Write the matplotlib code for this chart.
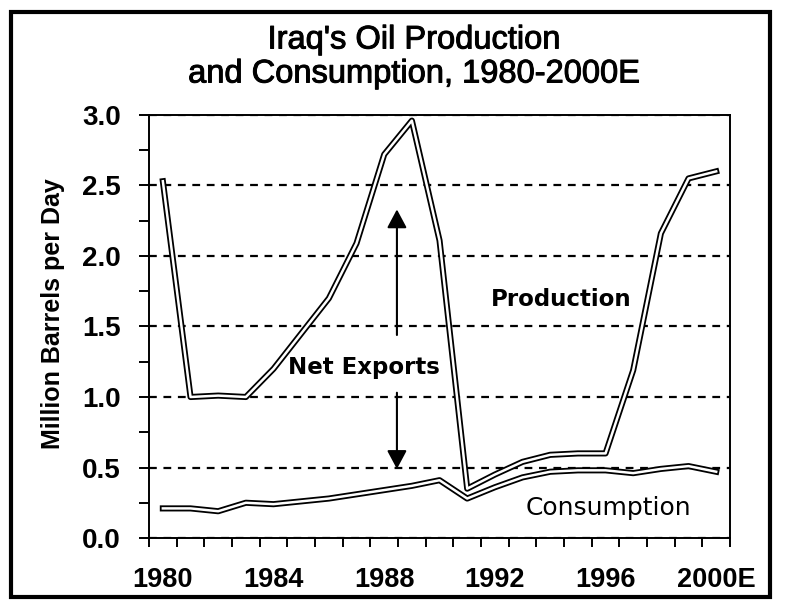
import numpy as np
import matplotlib
matplotlib.use('Agg')
from matplotlib import pyplot as plt
from matplotlib.patches import Rectangle, FancyArrowPatch
import matplotlib.patheffects as pe

years = list(range(1980, 2001))
production = [2.53, 1.00, 1.01, 1.00, 1.20, 1.45, 1.70, 2.09, 2.72, 2.96, 2.11,
              0.35, 0.45, 0.54, 0.59, 0.60, 0.60, 1.19, 2.16, 2.55, 2.60]
consumption = [0.21, 0.21, 0.19, 0.25, 0.24, 0.26, 0.28, 0.31, 0.34, 0.37, 0.41,
               0.28, 0.36, 0.43, 0.47, 0.48, 0.48, 0.46, 0.49, 0.51, 0.47]
label_years = [1980, 1984, 1988, 1992, 1996, 2000]
label_text = ['1980', '1984', '1988', '1992', '1996', '2000E']

plt.rcParams['font.family'] = ['Liberation Sans', 'DejaVu Sans']

fig = plt.figure(figsize=(7.86, 6.01), dpi=100)
ax = fig.add_axes([0.1896, 0.1048, 0.7392, 0.7039])

# double-line look: thick black under thin white
for series in (production, consumption):
    ax.plot(years, series, color='black', lw=4.4, solid_joinstyle='round', zorder=3)
    ax.plot(years, series, color='white', lw=1.8, solid_joinstyle='round', zorder=4)

ax.set_xlim(1979.5, 2000.5)
ax.set_ylim(0, 3.0)

# year boundaries get the tick marks, labels sit in the middle of the category
ax.set_xticks(np.arange(1979.5, 2001, 1))
ax.set_xticklabels([])
ax.set_xticks(label_years, minor=True)
ax.set_xticklabels(label_text, minor=True, fontsize=19.5, fontweight='bold')
ax.tick_params(axis='x', which='major', direction='out', length=6.5, width=1.4)
ax.tick_params(axis='x', which='minor', length=0, pad=21)

ax.set_yticks(np.arange(0, 3.01, 0.5))
ax.set_yticklabels(['%.1f' % v for v in np.arange(0, 3.01, 0.5)],
                   fontsize=20, fontweight='bold')
ax.set_yticks(np.arange(0.25, 3.0, 0.5), minor=True)
ax.tick_params(axis='y', which='both', direction='out', length=7.2, width=1.4)
ax.tick_params(axis='y', which='major', pad=13)

ax.grid(axis='y', which='major', color='black', lw=1.6, linestyle=(0, (3.5, 3)))
ax.set_axisbelow(True)
for s in ax.spines.values():
    s.set_linewidth(1.4)
    s.set_zorder(5)

ax.set_ylabel('Million Barrels per Day', fontsize=18, fontweight='bold')
ax.yaxis.set_label_coords(-0.145, 0.53)

# annotations
arrow_x = 1988.46
for y0, y1 in [(1.42, 2.35), (1.05, 0.47)]:
    ax.add_patch(FancyArrowPatch((arrow_x, y0), (arrow_x, y1),
                                 arrowstyle='-|>,head_length=0.75,head_width=0.4',
                                 mutation_scale=15, color='black', lw=1.5, zorder=6))
ax.text(1987.27, 1.21, 'Net Exports', fontsize=16.5, fontweight='bold',
        family='DejaVu Sans', ha='center', va='center', zorder=6)
ax.text(1994.39, 1.69, 'Production', fontsize=16.5, fontweight='bold',
        family='DejaVu Sans', ha='center', va='center', zorder=6)
ax.text(1996.1, 0.21, 'Consumption', fontsize=18,
        family='DejaVu Sans', ha='center', va='center', zorder=6)

heavy = [pe.withStroke(linewidth=0.7, foreground='black')]
fig.text(414 / 786, 1 - 40 / 601, "Iraq's Oil Production", fontsize=23.5,
         ha='center', va='center', path_effects=heavy)
fig.text(414 / 786, 1 - 74 / 601, 'and Consumption, 1980-2000E', fontsize=23.5,
         ha='center', va='center', path_effects=heavy)

# frame around the whole picture
fig.patches.append(Rectangle((0.0134, 0.0067), 0.9666, 0.9733, transform=fig.transFigure,
                             fill=False, edgecolor='black', lw=3.0))

fig.savefig('out.png', dpi=100)
